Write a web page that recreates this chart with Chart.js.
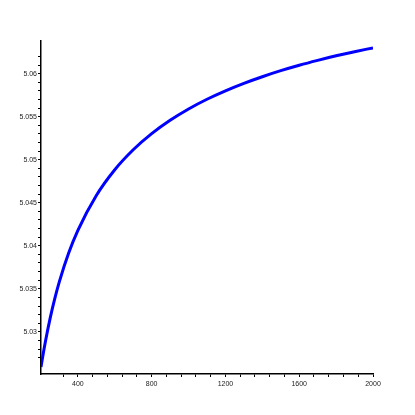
<!DOCTYPE html>
<html>
<head>
<meta charset="utf-8">
<script src="https://cdn.jsdelivr.net/npm/chart.js@4.4.0/dist/chart.umd.min.js"></script>
<style>
  html, body { margin: 0; padding: 0; background: #fff; }
  #wrap { width: 415px; height: 415px; }
</style>
</head>
<body>
<div id="wrap"><canvas id="grafico"></canvas></div>
<script>
const xValues = [200, 212, 225, 250, 275, 300, 350, 400, 500, 600, 700, 800, 900, 1000, 1100, 1200, 1300, 1400, 1500, 1600, 1700, 1800, 1900, 2000];
const yValues = [5.02590, 5.02746, 5.02900, 5.03163, 5.03389, 5.03586, 5.03915, 5.04179, 5.04585, 5.04884, 5.05116, 5.05303, 5.05458, 5.05590, 5.05703, 5.05801, 5.05888, 5.05965, 5.06035, 5.06098, 5.06155, 5.06208, 5.06256, 5.06300];
const xLabelTicks = [400, 800, 1200, 1600, 2000];
const yLabelTicks = [5.03, 5.035, 5.04, 5.045, 5.05, 5.055, 5.06];

const points = xValues.map((x, i) => ({ x: x, y: yValues[i] }));

function near(v, list, eps) {
  return list.some(t => Math.abs(t - v) < eps);
}

const ctx = document.getElementById('grafico').getContext('2d');
const chart = new Chart(ctx, {
  type: 'line',
  data: {
    datasets: [{
      data: points,
      borderColor: '#0000ff',
      borderWidth: 3,
      pointRadius: 0,
      fill: false,
      cubicInterpolationMode: 'monotone'
    }]
  },
  options: {
    responsive: true,
    maintainAspectRatio: false,
    animation: false,
    layout: { padding: { left: 0, top: 41, right: 42, bottom: 0 } },
    plugins: { legend: { display: false }, tooltip: { enabled: false } },
    scales: {
      x: {
        type: 'linear',
        min: 200,
        max: 2000,
        border: { display: true, color: '#000', width: 1.5 },
        grid: {
          drawOnChartArea: false,
          drawTicks: true,
          tickLength: 3,
          tickColor: c => (c.tick && Math.abs(c.tick.value % 80) < 1e-6 && c.tick.value > 200) ? '#000' : 'rgba(0,0,0,0)'
        },
        ticks: {
          stepSize: 80,
          autoSkip: false,
          maxRotation: 0,
          padding: 3,
          color: '#222',
          font: { family: 'Liberation Sans', size: 7 },
          callback: v => near(v, xLabelTicks, 1e-6) ? String(v) : ''
        },
        afterFit: s => { s.height = 41; }
      },
      y: {
        type: 'linear',
        min: 5.0251,
        max: 5.0638,
        border: { display: true, color: '#000', width: 1.5 },
        grid: {
          drawOnChartArea: false,
          drawTicks: true,
          tickLength: 3,
          tickColor: c => {
            if (!c.tick) return 'rgba(0,0,0,0)';
            const k = c.tick.value * 1000;
            return Math.abs(k - Math.round(k)) < 1e-6 ? '#000' : 'rgba(0,0,0,0)';
          }
        },
        ticks: {
          stepSize: 0.001,
          autoSkip: false,
          padding: 1,
          color: '#222',
          font: { family: 'Liberation Sans', size: 7 },
          callback: v => near(v, yLabelTicks, 1e-7) ? String(parseFloat(v.toFixed(3))) : ''
        },
        afterFit: s => { s.width = 41; }
      }
    }
  }
});
</script>
</body>
</html>
